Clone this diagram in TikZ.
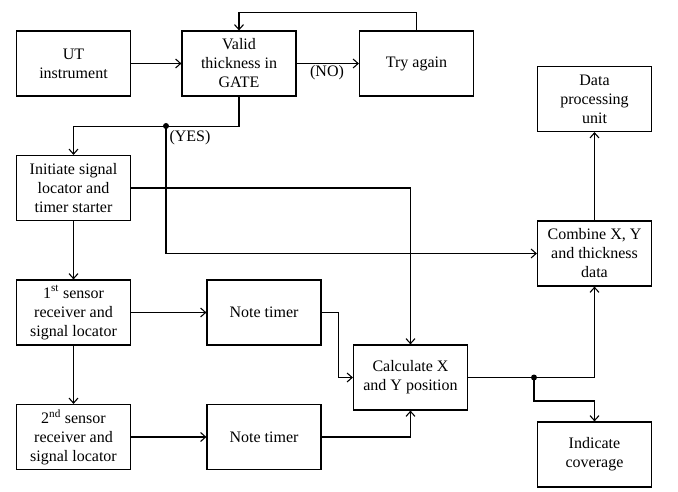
\documentclass[tikz,border=0pt]{standalone}
\usepackage{fontspec}
\setmainfont{Liberation Serif}
\usetikzlibrary{arrows.meta}
\begin{document}
\begin{tikzpicture}[x=1pt,y=-1pt,
  box/.style={draw,line width=1.2pt,minimum width=114pt,minimum height=65pt,align=center,inner sep=1pt,font=\fontsize{16}{19}\selectfont},
  lbl/.style={font=\fontsize{16}{19}\selectfont,inner sep=0pt},
  conn/.style={line width=1.2pt,-{Straight Barb[length=5pt,width=9pt,line width=1.1pt]}}]
\useasboundingbox (0,0) rectangle (678,492);
\node[box] (ut) at (73.5,63.5) {UT\\instrument};
\node[box] (valid) at (239,63.5) {Valid\\thickness in\\GATE};
\node[box] (try) at (416.5,63.5) {Try again};
\node[box] (dpu) at (594.5,99) {Data\\processing\\unit};
\node[box] (init) at (73.5,188) {Initiate signal\\locator and\\timer starter};
\node[box] (s1) at (73.5,312.5) {1\textsuperscript{st} sensor\\receiver and\\signal locator};
\node[box] (nt1) at (264,312.5) {Note timer};
\node[box] (s2) at (73.5,437) {2\textsuperscript{nd} sensor\\receiver and\\signal locator};
\node[box] (nt2) at (264,437) {Note timer};
\node[box] (calc) at (410.5,377.5) {Calculate X\\and Y position};
\node[box] (comb) at (594.5,253.5) {Combine X, Y\\and thickness\\data};
\node[box] (ind) at (594.5,454.5) {Indicate\\coverage};
\coordinate (yes) at (166,126);
\coordinate (split) at (534,377.5);
\node[lbl] (nolbl) at (327,73) {(NO)};
\node[lbl] (yeslbl) at (190,138) {(YES)};
\draw[conn] (ut) -- (valid);
\draw[conn] (valid) -- (try);
\draw[conn] (try.north) -- ++(0,-18) -| (valid.north);
\draw[conn] (valid.south) -- ++(0,30) -| (init.north);
\draw[conn] (yes) |- (comb.west);
\fill (yes) circle (3);
\draw[conn] (init.east) -| (calc.north);
\draw[conn] (init) -- (s1);
\draw[conn] (s1) -- (s2);
\draw[conn] (s1) -- (nt1);
\draw[conn] (s2) -- (nt2);
\draw[conn] (nt1.east) -- ++(17,0) |- (calc.west);
\draw[conn] (nt2.east) -| (calc.south);
\draw[conn] (calc.east) -| (comb.south);
\draw[conn] (split) -- ++(0,23.5) -| (ind.north);
\fill (split) circle (3);
\draw[conn] (comb) -- (dpu);
\end{tikzpicture}
\end{document}
